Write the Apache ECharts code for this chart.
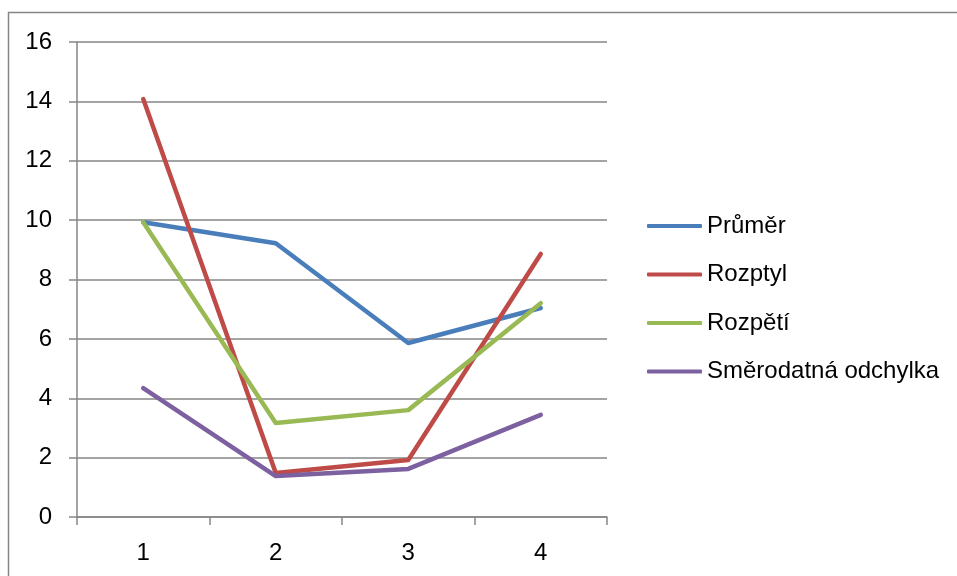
<!DOCTYPE html>
<html>
<head>
<meta charset="utf-8">
<script src="https://cdn.jsdelivr.net/npm/echarts@6/dist/echarts.min.js"></script>
<style>
  html, body { margin: 0; padding: 0; background: #fff; }
  #chart { width: 957px; height: 576px; }
</style>
</head>
<body>
<div id="chart"></div>
<script>
// Category labels along the x axis
const categories = ['1', '2', '3', '4'];

// Series values
const prumer = [9.93, 9.22, 5.86, 7.04];
const rozptyl = [14.08, 1.48, 1.92, 8.86];
const rozpeti = [9.93, 3.17, 3.6, 7.2];
const smerodatna = [4.34, 1.38, 1.62, 3.44];

const seriesNames = ['Průměr', 'Rozptyl', 'Rozpětí', 'Směrodatná odchylka'];
const seriesValues = [prumer, rozptyl, rozpeti, smerodatna];
const colors = ['#4a7ebb', '#be4b48', '#98b954', '#7d60a0'];

const font = 'Liberation Sans, Arial, sans-serif';
const axisGray = '#868686';

const chart = echarts.init(document.getElementById('chart'), null, { renderer: 'canvas' });

chart.setOption({
  animation: false,
  backgroundColor: '#fff',
  color: colors,
  graphic: [{
    type: 'rect',
    shape: { x: 8.5, y: 12.5, width: 1000, height: 1000 },
    style: { fill: 'none', stroke: '#868686', lineWidth: 1.5 },
    silent: true
  }],
  grid: { left: 77, top: 42, width: 530, height: 475, containLabel: false },
  legend: {
    orient: 'vertical',
    left: 647,
    top: 214,
    padding: 0,
    itemWidth: 55,
    itemHeight: 4,
    itemGap: 24.5,
    icon: 'roundRect',
    textStyle: { fontFamily: font, fontSize: 24, color: '#000', lineHeight: 24 },
    data: seriesNames
  },
  xAxis: {
    type: 'category',
    data: categories,
    boundaryGap: true,
    axisLine: { lineStyle: { color: axisGray, width: 1.5 } },
    axisTick: { show: true, length: 8, alignWithLabel: false, lineStyle: { color: axisGray, width: 1.5 } },
    axisLabel: { fontFamily: font, fontSize: 24, color: '#000', margin: 24 },
    splitLine: { show: false }
  },
  yAxis: {
    type: 'value',
    min: 0,
    max: 16,
    interval: 2,
    axisLine: { show: true, lineStyle: { color: axisGray, width: 1.5 } },
    axisTick: { show: true, length: 8, lineStyle: { color: axisGray, width: 1.5 } },
    axisLabel: { fontFamily: font, fontSize: 24, color: '#000', margin: 25 },
    splitLine: { show: true, lineStyle: { color: axisGray, width: 1.5 } }
  },
  series: seriesNames.map((name, i) => ({
    name: name,
    type: 'line',
    data: seriesValues[i],
    symbol: 'none',
    lineStyle: { width: 4.5, color: colors[i], cap: 'round', join: 'round' },
    itemStyle: { color: colors[i] }
  }))
});
</script>
</body>
</html>
